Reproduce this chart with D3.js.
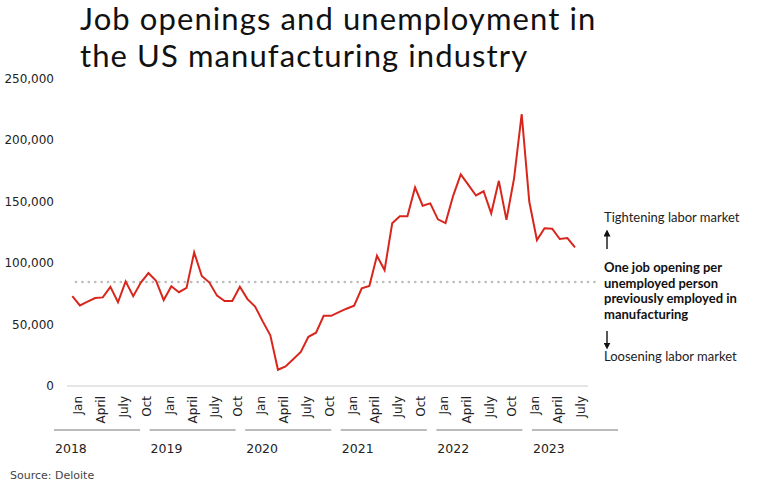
<!DOCTYPE html>
<html>
<head>
<meta charset="utf-8">
<script src="https://cdn.jsdelivr.net/npm/d3@7"></script>
<style>
  body { margin: 0; background: #fff; }
  svg text { font-family: "DejaVu Sans", sans-serif; }
</style>
</head>
<body>
<svg id="chart"></svg>
<script>
// monthly ratio series, Jan 2018 .. Jul 2023
const startYear = 2018;
const values = [
  73000, 65500, 68500, 71500, 72000, 80500, 68000, 85000, 73000, 84000, 91800, 85500,
  69800, 81000, 76200, 79700, 108600, 89400, 84000, 73400, 69100, 69000, 80700, 70600,
  64600, 52500, 41200, 13200, 15900, 21700, 27700, 40000, 43300, 57000, 57000, 60000,
  62800, 65300, 79300, 81300, 105800, 94200, 132200, 138000, 138000, 161300, 146500, 148400,
  135400, 132400, 154500, 172000, 163400, 154800, 158200, 140300, 166700, 135000, 168700, 221000,
  149700, 118600, 128200, 127800, 119400, 120200, 112700
];
const years = ["2018", "2019", "2020", "2021", "2022", "2023"];
const quarterLabels = ["Jan", "April", "July", "Oct"];
const quarterMonths = [0, 3, 6, 9];
const yTicks = [0, 50000, 100000, 150000, 200000, 250000];
const referenceValue = 84500;
const titleLines = ["Job openings and unemployment in", "the US manufacturing industry"];
const noteTop = "Tightening labor market";
const noteMid = ["One job opening per", "unemployed person", "previously employed in", "manufacturing"];
const noteBottom = "Loosening labor market";
const source = "Source: Deloite";

const W = 757, H = 487;
const svg = d3.select('#chart').attr('width', W).attr('height', H);

const x = d3.scaleLinear().domain([0, values.length - 1]).range([72.3, 575]);
const y = d3.scaleLinear().domain([0, 250000]).range([386, 78.3]);

// title
svg.append('g').selectAll('text')
  .data(titleLines)
  .join('text')
  .attr('x', 80)
  .attr('y', (d, i) => 30 + i * 37)
  .style('font-family', 'Lato, sans-serif')
  .style('font-size', '31px')
  .style('letter-spacing', '1.1px')
  .attr('fill', '#111')
  .text(d => d);

// y axis labels
svg.append('g').selectAll('text')
  .data(yTicks)
  .join('text')
  .attr('x', 54)
  .attr('y', d => y(d))
  .attr('dy', '0.35em')
  .attr('text-anchor', 'end')
  .style('font-size', '12px')
  .attr('fill', '#222')
  .text(d => d3.format(',')(d));

// baseline
svg.append('line')
  .attr('x1', 67).attr('x2', 588)
  .attr('y1', y(0)).attr('y2', y(0))
  .attr('stroke', '#ccc').attr('stroke-width', 1);

// reference dotted line
svg.append('line')
  .attr('x1', 76).attr('x2', 597)
  .attr('y1', y(referenceValue)).attr('y2', y(referenceValue))
  .attr('stroke', '#bdbdbd').attr('stroke-width', 2.6)
  .attr('stroke-linecap', 'round')
  .attr('stroke-dasharray', '0.1 6.3');

// the series
svg.append('path')
  .datum(values)
  .attr('fill', 'none')
  .attr('stroke', '#d9261c')
  .attr('stroke-width', 2)
  .attr('stroke-linejoin', 'miter')
  .attr('d', d3.line().x((d, i) => x(i)).y(d => y(d)));

// month labels (quarterly), rotated
const monthTicks = [];
years.forEach((yr, yi) => {
  quarterMonths.forEach((m, qi) => {
    const idx = yi * 12 + m;
    if (idx < values.length) monthTicks.push({idx, label: quarterLabels[qi]});
  });
});
svg.append('g').selectAll('text')
  .data(monthTicks)
  .join('text')
  .attr('transform', d => `translate(${x(d.idx) + 10},396) rotate(-90)`)
  .attr('text-anchor', 'end')
  .style('font-size', '12px')
  .attr('fill', '#222')
  .text(d => d.label);

// year groups
const yearBand = d3.scaleBand().domain(years).range([54, 618]).paddingInner(0.1);
const yearG = svg.append('g').selectAll('g')
  .data(years)
  .join('g')
  .attr('transform', d => `translate(${yearBand(d)},0)`);
yearG.append('line')
  .attr('x1', 0).attr('x2', yearBand.bandwidth())
  .attr('y1', 430).attr('y2', 430)
  .attr('stroke', '#bbb').attr('stroke-width', 2);
yearG.append('text')
  .attr('x', 1).attr('y', 453)
  .style('font-size', '12.5px')
  .attr('fill', '#222')
  .text(d => d);

// right-hand notes
const notes = svg.append('g');
notes.append('text').attr('x', 604).attr('y', 222).attr('fill', '#222')
  .style('font-family', 'Lato, sans-serif').style('font-size', '13px').text(noteTop);
notes.selectAll('text.mid')
  .data(noteMid)
  .join('text')
  .attr('class', 'mid')
  .attr('x', 604)
  .attr('y', (d, i) => 272 + i * 15.5)
  .style('font-family', 'Lato, sans-serif')
  .style('font-size', '13px')
  .style('font-weight', 'bold')
  .attr('fill', '#111')
  .text(d => d);
notes.append('text').attr('x', 604).attr('y', 361).attr('fill', '#222')
  .style('font-family', 'Lato, sans-serif').style('font-size', '13px').text(noteBottom);

svg.append('defs').append('marker')
  .attr('id', 'arr')
  .attr('viewBox', '0 0 10 10')
  .attr('refX', 5).attr('refY', 5)
  .attr('markerWidth', 5).attr('markerHeight', 5)
  .attr('orient', 'auto')
  .append('path').attr('d', 'M0,0 L10,5 L0,10 Z').attr('fill', '#111');

svg.append('line').attr('x1', 607).attr('x2', 607).attr('y1', 249).attr('y2', 233)
  .attr('stroke', '#111').attr('stroke-width', 1.4).attr('marker-end', 'url(#arr)');
svg.append('line').attr('x1', 607).attr('x2', 607).attr('y1', 331).attr('y2', 346)
  .attr('stroke', '#111').attr('stroke-width', 1.4).attr('marker-end', 'url(#arr)');

// source
svg.append('text')
  .attr('x', 10).attr('y', 479)
  .style('font-size', '11px')
  .attr('fill', '#444')
  .text(source);
</script>
</body>
</html>
